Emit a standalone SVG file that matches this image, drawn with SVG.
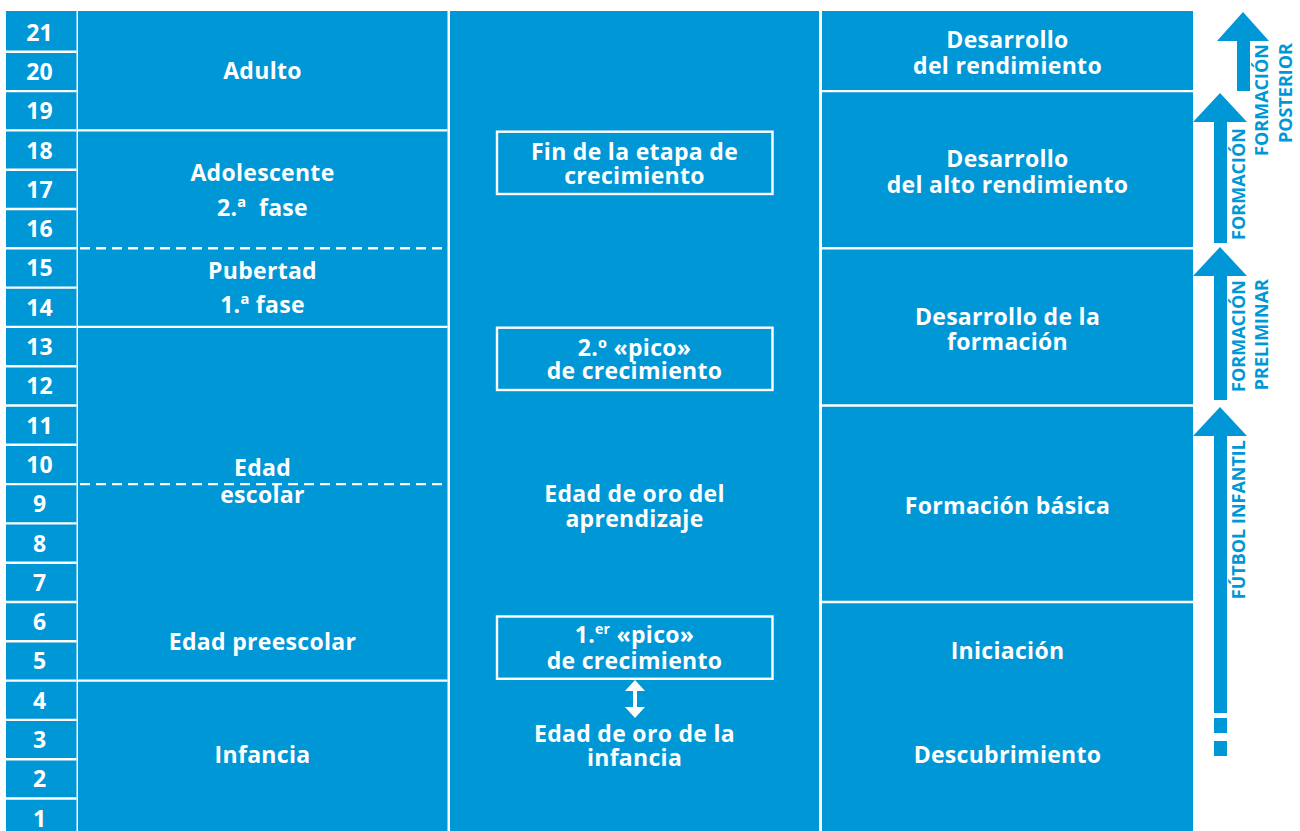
<svg xmlns="http://www.w3.org/2000/svg" width="1300" height="831" viewBox="0 0 1300 831">
<style>
.bg{fill:#0097d7}
.sep{stroke:#fff;stroke-width:2.4;fill:none}
.dash{stroke:#fff;stroke-width:2.4;fill:none;stroke-dasharray:10 6}
.box{fill:none;stroke:#fff;stroke-width:2.4}
.t{font-family:"Open Sans","Noto Sans","DejaVu Sans",sans-serif;font-weight:700;font-size:23px;fill:#fff;text-anchor:middle;letter-spacing:0.3px}
.n{font-family:"Open Sans","Noto Sans","DejaVu Sans",sans-serif;font-weight:700;font-size:23px;fill:#fff;text-anchor:middle}
.v{font-family:"Open Sans","Noto Sans","DejaVu Sans",sans-serif;font-weight:700;font-size:18px;fill:#0097d7;text-anchor:end}
.arr{fill:#0097d7}
.wa{fill:#fff}
</style>
<rect width="1300" height="831" fill="#fff"/>

<g id="columns">
<rect class="bg" x="6" y="11" width="70.5" height="820"/>
<rect class="bg" x="78" y="11" width="369.5" height="820"/>
<rect class="bg" x="450" y="11" width="369" height="820"/>
<rect class="bg" x="822" y="11" width="371" height="820"/>
</g>

<g id="age-scale">
<path class="sep" d="M6 51.8H76.5M6 91.1H76.5M6 130.4H76.5M6 169.7H76.5M6 209H76.5M6 248.3H76.5M6 287.6H76.5M6 326.9H76.5M6 366.2H76.5M6 405.5H76.5M6 444.8H76.5M6 484.1H76.5M6 523.4H76.5M6 562.7H76.5M6 602H76.5M6 641.3H76.5M6 680.6H76.5M6 719.9H76.5M6 759.2H76.5M6 798.5H76.5"/>
<text class="n" x="39.5" y="40.6">21</text>
<text class="n" x="39.5" y="79.9">20</text>
<text class="n" x="39.5" y="119.2">19</text>
<text class="n" x="39.5" y="158.5">18</text>
<text class="n" x="39.5" y="197.8">17</text>
<text class="n" x="39.5" y="237.1">16</text>
<text class="n" x="39.5" y="276.4">15</text>
<text class="n" x="39.5" y="315.7">14</text>
<text class="n" x="39.5" y="355">13</text>
<text class="n" x="39.5" y="394.3">12</text>
<text class="n" x="39.5" y="433.6">11</text>
<text class="n" x="39.5" y="472.9">10</text>
<text class="n" x="39.5" y="512.2">9</text>
<text class="n" x="39.5" y="551.5">8</text>
<text class="n" x="39.5" y="590.8">7</text>
<text class="n" x="39.5" y="630.1">6</text>
<text class="n" x="39.5" y="669.4">5</text>
<text class="n" x="39.5" y="708.7">4</text>
<text class="n" x="39.5" y="748">3</text>
<text class="n" x="39.5" y="787.3">2</text>
<text class="n" x="39.5" y="826.6">1</text>
</g>

<g id="stages">
<path class="sep" d="M78 130.4H447.5M78 326.9H447.5M78 680.6H447.5"/>
<path class="dash" d="M80 248.3H447.5M80 484.1H447.5"/>
<g id="adulto"><text class="t" x="262.5" y="79.3">Adulto</text></g>
<g id="adolescente"><text class="t" x="262.5" y="181">Adolescente</text><text class="t" x="262.5" y="216">2.ª&#160; fase</text></g>
<g id="pubertad"><text class="t" x="262.5" y="279.3">Pubertad</text><text class="t" x="262.5" y="313.3">1.ª fase</text></g>
<g id="edad-escolar"><text class="t" x="262.5" y="476">Edad</text><text class="t" x="262.5" y="502.7">escolar</text></g>
<g id="edad-preescolar"><text class="t" x="262.5" y="650">Edad preescolar</text></g>
<g id="infancia"><text class="t" x="262.5" y="763.3">Infancia</text></g>
</g>

<g id="growth">
<g id="fin-crecimiento"><rect class="box" x="497" y="131.7" width="275.5" height="62.3"/><text class="t" x="634.5" y="160">Fin de la etapa de</text><text class="t" x="634.5" y="184">crecimiento</text></g>
<g id="segundo-pico"><rect class="box" x="497" y="327.7" width="275.5" height="62.3"/><text class="t" x="634.5" y="356">2.º «pico»</text><text class="t" x="634.5" y="379.3">de crecimiento</text></g>
<g id="edad-oro-aprendizaje"><text class="t" x="634.5" y="501.5">Edad de oro del</text><text class="t" x="634.5" y="527">aprendizaje</text></g>
<g id="primer-pico"><rect class="box" x="497" y="616.5" width="275.5" height="62.3"/><text class="t" x="634.5" y="643.3">1.<tspan font-size="14" dy="-9">er</tspan><tspan dy="9"> «pico»</tspan></text><text class="t" x="634.5" y="669.3">de crecimiento</text></g>
<g id="edad-oro-infancia"><text class="t" x="634.5" y="741.7">Edad de oro de la</text><text class="t" x="634.5" y="765.7">infancia</text></g>
</g>

<g id="training">
<path class="sep" d="M822 91.1H1193M822 248.3H1193M822 405.5H1193M822 602H1193"/>
<g id="desarrollo-rendimiento"><text class="t" x="1007.5" y="48">Desarrollo</text><text class="t" x="1007.5" y="74">del rendimiento</text></g>
<g id="desarrollo-alto"><text class="t" x="1007.5" y="167">Desarrollo</text><text class="t" x="1007.5" y="193">del alto rendimiento</text></g>
<g id="desarrollo-formacion"><text class="t" x="1007.5" y="325">Desarrollo de la</text><text class="t" x="1007.5" y="350">formación</text></g>
<g id="formacion-basica"><text class="t" x="1007.5" y="514">Formación básica</text></g>
<g id="iniciacion"><text class="t" x="1007.5" y="659">Iniciación</text></g>
<g id="descubrimiento"><text class="t" x="1007.5" y="762.7">Descubrimiento</text></g>
</g>

<g id="connectors">
<path class="wa" d="M635 680L645 691H637V707H645L635 718L625 707H633V691H625Z"/>
<path class="arr" d="M1243 12L1269 41H1250V91H1237V41H1217Z"/>
<path class="arr" d="M1220 93L1247 122H1227V243H1214V122H1193Z"/>
<path class="arr" d="M1220 247L1247 276H1227V400H1214V276H1193Z"/>
<path class="arr" d="M1220 407L1247 436H1227V713H1214V436H1193Z"/>
<rect class="arr" x="1214" y="718" width="13" height="15"/>
<rect class="arr" x="1214" y="741" width="13" height="15"/>
</g>

<g id="phase-labels">
<g id="formacion-posterior"><text class="v" transform="translate(1268,44) rotate(-90)">FORMACIÓN</text><text class="v" transform="translate(1292,43) rotate(-90)">POSTERIOR</text></g>
<g id="formacion"><text class="v" transform="translate(1245,128) rotate(-90)">FORMACIÓN</text></g>
<g id="formacion-preliminar"><text class="v" transform="translate(1245,280) rotate(-90)">FORMACIÓN</text><text class="v" transform="translate(1268,279) rotate(-90)">PRELIMINAR</text></g>
<g id="futbol-infantil"><text class="v" transform="translate(1245,440) rotate(-90)">FÚTBOL INFANTIL</text></g>
</g>
</svg>
